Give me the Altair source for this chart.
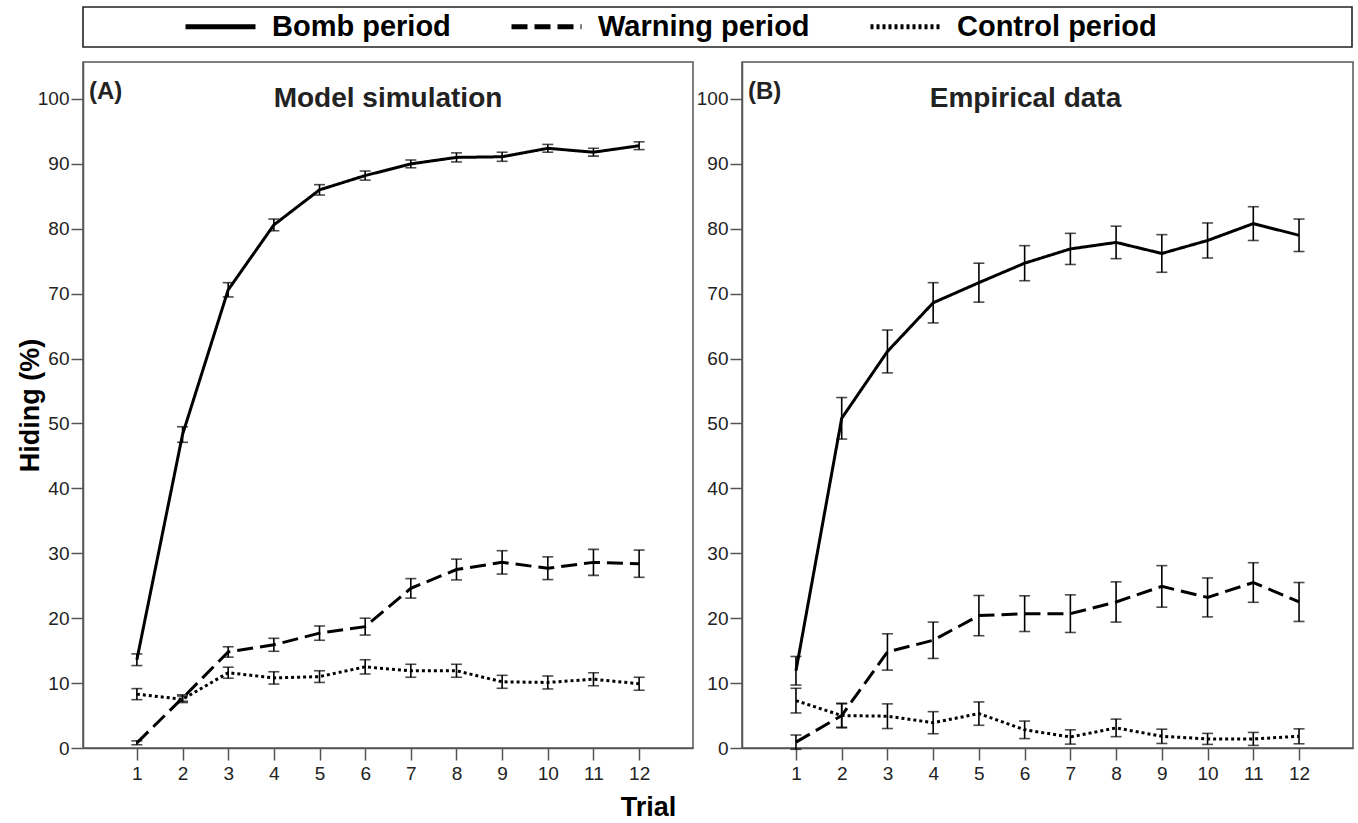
import altair as alt
import pandas as pd

# ---------------- data ----------------
trials = list(range(1, 13))
series = ["Bomb period", "Warning period", "Control period"]
panel_letters = ["(A)", "(B)"]
panel_titles = ["Model simulation", "Empirical data"]
y_ticks = list(range(0, 101, 10))

model_bomb = [13.6, 48.3, 70.6, 80.6, 86.0, 88.2, 90.0, 91.0, 91.1, 92.4, 91.8, 92.8]
model_bomb_err = [0.9, 1.2, 1.1, 0.9, 0.8, 0.7, 0.6, 0.7, 0.7, 0.6, 0.6, 0.6]
model_warn = [0.8, 7.7, 14.8, 15.9, 17.7, 18.7, 24.6, 27.5, 28.6, 27.7, 28.6, 28.4]
model_warn_err = [0.3, 0.5, 0.8, 1.0, 1.1, 1.3, 1.5, 1.6, 1.8, 1.75, 2.0, 2.1]
model_ctrl = [8.3, 7.5, 11.6, 10.8, 11.0, 12.5, 11.9, 11.9, 10.2, 10.1, 10.6, 9.9]
model_ctrl_err = [0.85, 0.5, 0.85, 0.95, 0.9, 1.1, 1.0, 1.0, 1.0, 1.0, 1.0, 1.0]

emp_bomb = [11.9, 50.8, 61.1, 68.6, 71.7, 74.7, 76.9, 77.9, 76.2, 78.2, 80.8, 79.0]
emp_bomb_err = [2.2, 3.2, 3.3, 3.1, 3.0, 2.7, 2.4, 2.5, 2.9, 2.7, 2.6, 2.5]
emp_warn = [0.9, 5.0, 14.8, 16.6, 20.4, 20.7, 20.7, 22.5, 24.9, 23.2, 25.5, 22.5]
emp_warn_err = [1.1, 1.9, 2.8, 2.8, 3.1, 2.75, 2.9, 3.1, 3.2, 3.0, 3.05, 3.0]
emp_ctrl = [7.3, 5.0, 4.9, 3.9, 5.3, 2.8, 1.7, 3.1, 1.8, 1.4, 1.4, 1.8]
emp_ctrl_err = [1.9, 1.8, 1.9, 1.7, 1.8, 1.35, 1.1, 1.35, 1.1, 0.85, 1.0, 1.15]

model_vals = [model_bomb, model_warn, model_ctrl]
model_errs = [model_bomb_err, model_warn_err, model_ctrl_err]
emp_vals = [emp_bomb, emp_warn, emp_ctrl]
emp_errs = [emp_bomb_err, emp_warn_err, emp_ctrl_err]


def build_df(vals, errs):
    rows = []
    for s, v, e in zip(series, vals, errs):
        for t, vv, ee in zip(trials, v, e):
            rows.append({"trial": t, "series": s, "value": vv, "err": ee})
    return pd.DataFrame(rows)


df_model = build_df(model_vals, model_errs)
df_emp = build_df(emp_vals, emp_errs)

SANS = "'Liberation Sans', Arial, Helvetica, sans-serif"

PW_A, PW_B, PH = 610, 611, 686
XDOM = [-0.18, 13.18]
YDOM = [0, 105.7]

dash_scale = alt.Scale(domain=series, range=[[1, 0], [16, 7], [3, 3]])


def panel(df, letter, title, width, first):
    base = alt.Chart(df)
    ytitle = "Hiding (%)" if first else None
    if first:
        xaxis = alt.Axis(values=trials, title="Trial", titleX=565, titleY=46,
                         titleFontSize=27, titleFontWeight="bold", titleColor="black",
                         titleFont=SANS, titleBaseline="top", titleAlign="center")
        yaxis = alt.Axis(values=y_ticks, title=ytitle, titlePadding=-7,
                         titleFontSize=27, titleFontWeight="bold", titleColor="black",
                         titleFont=SANS)
        legend = alt.Legend(
            title=None, orient="none", direction="horizontal", legendX=100, legendY=-18,
            symbolType="stroke", symbolSize=4900, symbolStrokeWidth=5,
            symbolStrokeColor="black", labelFont=SANS, labelFontSize=29,
            labelFontWeight="bold", labelColor="black", labelLimit=400,
            labelOffset=14, columnPadding=50, padding=0,
        )
        tdx = 0
    else:
        xaxis = alt.Axis(values=trials, title=None)
        yaxis = alt.Axis(values=y_ticks, title=None)
        legend = None
        tdx = -22
    x = alt.X("trial:Q", scale=alt.Scale(domain=XDOM, nice=False, zero=False), axis=xaxis)
    y = alt.Y("value:Q", scale=alt.Scale(domain=YDOM, nice=False), axis=yaxis)

    lines = base.mark_line(color="black", strokeWidth=3).encode(
        x=x, y=y,
        strokeDash=alt.StrokeDash("series:N", scale=dash_scale, legend=legend, sort=series),
    )
    errs = base.transform_calculate(
        lo="datum.value - datum.err", hi="datum.value + datum.err"
    ).mark_errorbar(ticks=True, size=11, thickness=1.6, color="black").encode(
        x=alt.X("trial:Q", title="Trial" if first else None),
        y=alt.Y("lo:Q", title=ytitle),
        y2="hi:Q",
        detail="series:N",
    )
    lab = alt.Chart(pd.DataFrame({"t": [letter]})).mark_text(
        align="left", baseline="alphabetic", fontSize=24, fontWeight="bold",
        font=SANS, color="#222",
    ).encode(text="t:N", x=alt.value(6), y=alt.value(37))

    return alt.layer(lines, errs, lab).properties(
        width=width, height=PH,
        title=alt.TitleParams(title, anchor="middle", frame="group", offset=-73,
                              dx=tdx, baseline="alphabetic", fontSize=28,
                              fontWeight="bold", font=SANS, color="#222"),
        view=alt.ViewBackground(stroke="#555", strokeWidth=1.5),
    )


pA = panel(df_model, panel_letters[0], panel_titles[0], PW_A, True)
pB = panel(df_emp, panel_letters[1], panel_titles[1], PW_B, False)

top = alt.Chart(pd.DataFrame({"s": series})).mark_text(opacity=0).encode(
    text="s:N"
).properties(width=1269, height=40,
             view=alt.ViewBackground(stroke="#222", strokeWidth=1.6))

panels = alt.hconcat(pA, pB, spacing=49, bounds="flush")
chart = alt.vconcat(top, panels, spacing=15, bounds="flush").properties(
    padding={"left": 15, "top": -11, "right": 0, "bottom": 0}
).configure_axis(
    domainColor="#555", domainWidth=1.5, tickColor="#555", tickWidth=1.5,
    tickSize=12, labelPadding=2, labelColor="#222", labelFont=SANS,
    labelFontSize=19, grid=False,
).configure_axisX(labelPadding=4).configure_view(stroke="#555")

chart.save("out.html", embed_options={"renderer": "svg", "actions": False})
